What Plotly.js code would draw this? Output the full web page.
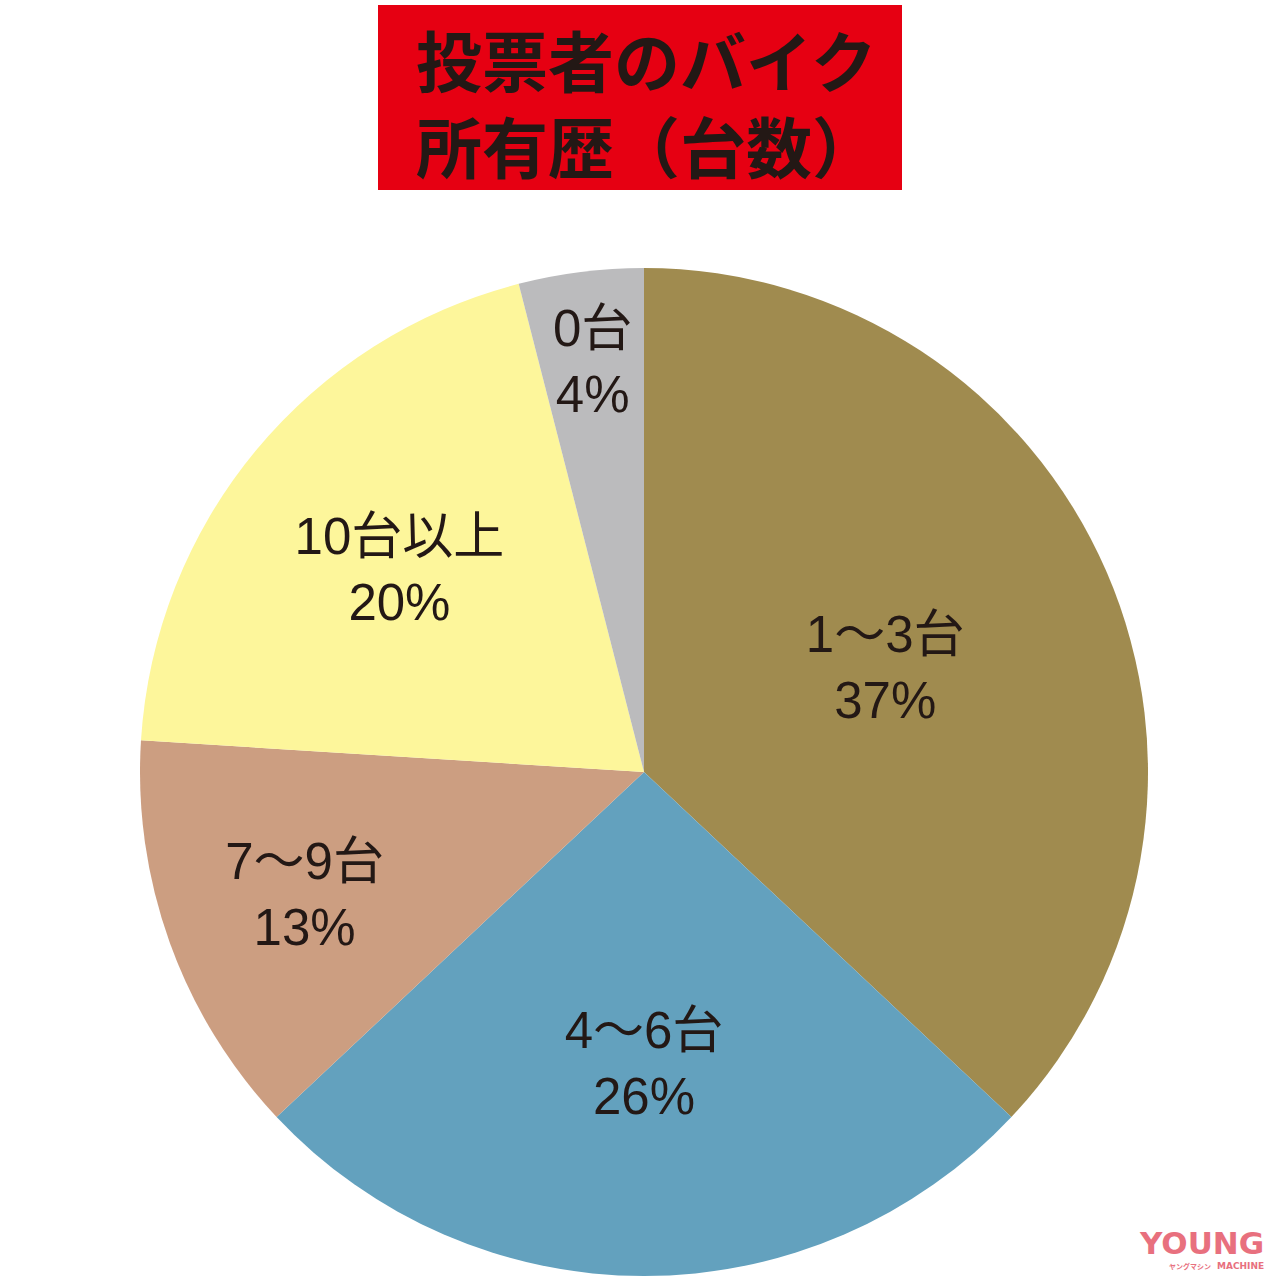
<!DOCTYPE html>
<html>
<head>
<meta charset="utf-8">
<script src="https://cdn.plot.ly/plotly-3.0.1.min.js"></script>
<style>html,body{margin:0;padding:0;background:#fff;}#chart{width:1280px;height:1280px;}</style>
</head>
<body>
<div id="chart"></div>
<script>
const categories = ["1～3台", "4～6台", "7～9台", "10台以上", "0台"];
const values = [37, 26, 13, 20, 4];
const colors = ["#A08B4F", "#63A1BE", "#CC9E81", "#FDF69B", "#BBBBBD"];
const titleLines = ["投票者のバイク", "所有歴（台数）"];

// pie geometry (layout only)
const pieX = [140/1280, 1148/1280];
const pieY = [4/1280, 1012/1280];
const labelFont = {family: "Liberation Sans, Noto Sans CJK JP, sans-serif", size: 51, color: "#231815"};

// thin slices get their label placed near the rim, computed from the data
const total = values.reduce((a, b) => a + b, 0);
const smallShare = 0.06;
const textpos = values.map(v => v / total < smallShare ? "none" : "inside");
const cx = (pieX[0] + pieX[1]) / 2, cy = (pieY[0] + pieY[1]) / 2;
const R = (pieX[1] - pieX[0]) / 2; // paper units (square figure)
const rimFrac = 0.82;
const smallAnns = [];
let cum = 0;
values.forEach((v, i) => {
  const mid = (cum + v / 2) / total * 2 * Math.PI;
  cum += v;
  if (textpos[i] === "none") {
    smallAnns.push({
      text: categories[i] + "<br>" + v + "%",
      xref: "paper", yref: "paper",
      x: cx + rimFrac * R * Math.sin(mid),
      y: cy + rimFrac * R * Math.cos(mid),
      xanchor: "center", yanchor: "middle", showarrow: false,
      font: labelFont
    });
  }
});

const trace = {
  type: "pie",
  labels: categories,
  values: values,
  sort: false,
  direction: "clockwise",
  rotation: 0,
  marker: {colors: colors, line: {width: 0}},
  texttemplate: "%{label}<br>%{value}%",
  textposition: textpos,
  insidetextorientation: "horizontal",
  textfont: labelFont,
  hoverinfo: "none",
  domain: {x: pieX, y: pieY},
  showlegend: false
};

const layout = {
  width: 1280, height: 1280,
  margin: {l: 0, r: 0, t: 0, b: 0},
  paper_bgcolor: "#ffffff",
  shapes: [{type: "rect", xref: "paper", yref: "paper", x0: 378/1280, x1: 902/1280, y0: 1 - 190/1280, y1: 1 - 5/1280, fillcolor: "#E60012", line: {width: 0}, layer: "below"}],
  annotations: [
    {text: titleLines.join("<br>"), xref: "paper", yref: "paper", x: 414/1280, y: 1 - 101/1280, xanchor: "left", yanchor: "middle", align: "left", showarrow: false, font: {family: "Noto Sans CJK JP", size: 66, color: "#231815", weight: 700}},
    {text: "YOUNG", xref: "paper", yref: "paper", x: 1266/1280, y: 1 - 1243/1280, xanchor: "right", yanchor: "middle", showarrow: false, font: {family: "DejaVu Sans", size: 31, color: "#E8707E", weight: 900}},
    {text: "ヤングマシン", xref: "paper", yref: "paper", x: 1213/1280, y: 1 - 1266/1280, xanchor: "right", yanchor: "middle", showarrow: false, font: {family: "Noto Sans CJK JP", size: 7, color: "#E8707E", weight: 700}},
    {text: "MACHINE", xref: "paper", yref: "paper", x: 1266/1280, y: 1 - 1266/1280, xanchor: "right", yanchor: "middle", showarrow: false, font: {family: "DejaVu Sans", size: 9, color: "#E8707E", weight: 900}}
  ].concat(smallAnns)
};

Plotly.newPlot("chart", [trace], layout, {displayModeBar: false, staticPlot: true});
</script>
</body>
</html>
